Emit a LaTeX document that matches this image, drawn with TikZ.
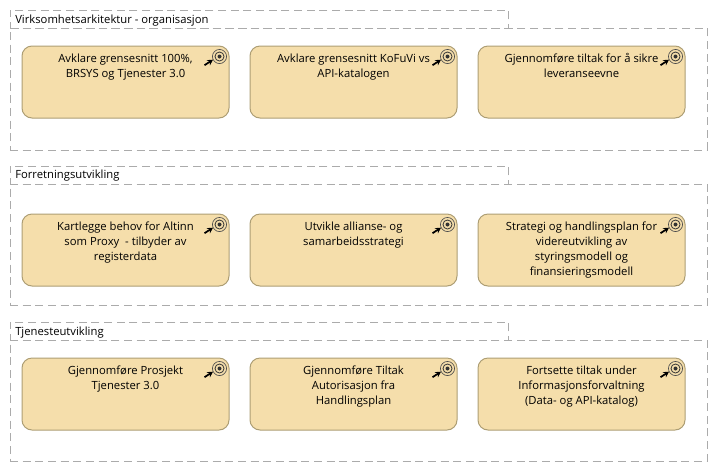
\documentclass[tikz,border=0pt]{standalone}
\usepackage{fontspec}
\setmainfont{Open Sans}
\usetikzlibrary{arrows.meta,calc}
\definecolor{goalfill}{HTML}{F5DEAB}
\definecolor{goalline}{HTML}{AD9E74}
\definecolor{grpline}{HTML}{ABABAB}
\tikzset{
 x=0.75pt,y=-0.75pt,
 grpbody/.style={draw=grpline,line width=0.75pt,dash pattern=on 6pt off 3.5pt,minimum width=522.75pt,anchor=north west,inner sep=0pt,outer sep=0pt},
 grptab/.style={draw=grpline,line width=0.75pt,dash pattern=on 6pt off 3.5pt,minimum width=373.5pt,minimum height=13.5pt,anchor=north west,inner sep=0pt,outer sep=0pt},
 grplabel/.style={anchor=west,inner sep=0pt,font=\fontsize{8.45}{10}\selectfont,text=black},
 goal/.style={draw=goalline,fill=goalfill,line width=0.75pt,rounded corners=7.5pt,minimum width=155.25pt,minimum height=54pt,anchor=north west,inner sep=0pt,outer sep=0pt},
 goaltext/.style={anchor=north,inner sep=0pt,align=center,font=\fontsize{8.45}{11.25}\selectfont,text=black},
 pics/target/.style={code={
   \draw[line width=0.5pt,draw=black!70] (0,0) circle (5.3pt);
   \draw[line width=0.6pt,draw=black!80] (0,0) circle (3.4pt);
   \fill[black!80] (0,0) circle (1.5pt);
   \draw[line width=1.3pt,-{Stealth[length=4.2pt,width=4.6pt]}] (-15,8.7) -- (-6.5,3.2);
 }}
}
\newcommand{\goalbox}[3]{%
 \node[goal] (#1) at (#2) {};
 \path (#1.north east) ++(-9.5,10.5) pic {target};
 \node[goaltext] (#1t) at ($(#1.north)+(0,7.5)$) {#3};
}
\begin{document}
\begin{tikzpicture}
\useasboundingbox (0,0) rectangle (717,472);
\node[grptab] (t1) at (10,10) {};
\node[grpbody,minimum height=91.5pt] (b1) at (10,28) {};
\node[grplabel] (l1) at (15,20.5) {Virksomhetsarkitektur - organisasjon};
\node[grptab] (t2) at (10,166) {};
\node[grpbody,minimum height=91pt] (b2) at (10,184) {};
\node[grplabel] (l2) at (15,176) {Forretningsutvikling};
\node[grptab] (t3) at (10,322) {};
\node[grpbody,minimum height=91pt] (b3) at (10,340) {};
\node[grplabel] (l3) at (15,332.5) {Tjenesteutvikling};
\goalbox{a1}{22,46}{Avklare grensesnitt 100\%,\\BRSYS og Tjenester 3.0}
\goalbox{a2}{250,46}{Avklare grensesnitt KoFuVi vs\\API-katalogen}
\goalbox{a3}{478,46}{Gjennomføre tiltak for å sikre\\leveranseevne}
\goalbox{b1n}{22,214}{Kartlegge behov for Altinn\\som Proxy\ \ - tilbyder av\\registerdata}
\goalbox{b2n}{250,214}{Utvikle allianse- og\\samarbeidsstrategi}
\goalbox{b3n}{478,214}{Strategi og handlingsplan for\\videreutvikling av\\styringsmodell og\\finansieringsmodell}
\goalbox{c1}{22,358}{Gjennomføre Prosjekt\\Tjenester 3.0}
\goalbox{c2}{250,358}{Gjennomføre Tiltak\\Autorisasjon fra\\Handlingsplan}
\goalbox{c3}{478,358}{Fortsette tiltak under\\Informasjonsforvaltning\\(Data- og API-katalog)}
\end{tikzpicture}
\end{document}
